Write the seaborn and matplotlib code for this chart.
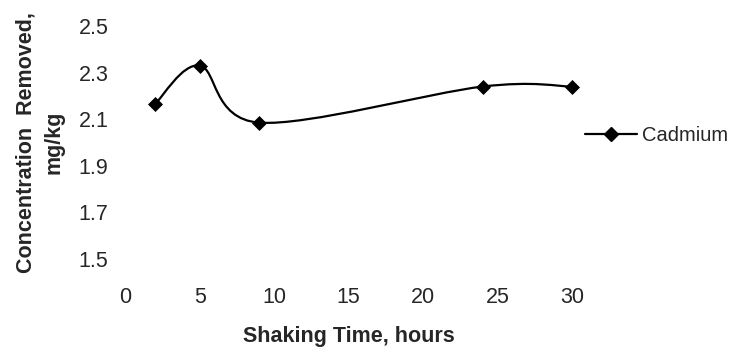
import numpy as np
import pandas as pd
import matplotlib
matplotlib.use("Agg")
import matplotlib.pyplot as plt
import seaborn as sns
from matplotlib.path import Path
from matplotlib.patches import PathPatch
from matplotlib.lines import Line2D

# data
hours = [2, 5, 9, 24, 30]
cadmium = [2.165, 2.33, 2.085, 2.24, 2.24]
x_ticks = [0, 5, 10, 15, 20, 25, 30]
y_ticks = [1.5, 1.7, 1.9, 2.1, 2.3, 2.5]

data = pd.DataFrame({"hours": hours, "cadmium": cadmium})

sns.set_style("white")
plt.rcParams["font.family"] = ["Liberation Sans", "DejaVu Sans"]
fs = 15.5

fig = plt.figure(figsize=(7.37, 3.47), dpi=100)
ax = fig.add_axes([0.170, 0.254, 0.606, 0.671])

# smoothed line like excel (bezier through the points)
pts = np.column_stack([data["hours"], data["cadmium"]]).astype(float)
ext = np.vstack([pts[0], pts, pts[-1]])
verts = [tuple(pts[0])]
codes = [Path.MOVETO]
for i in range(len(pts) - 1):
    p0, p1, p2, p3 = ext[i], ext[i + 1], ext[i + 2], ext[i + 3]
    c1 = p1 + (p2 - p0) / 6
    c2 = p2 - (p3 - p1) / 6
    verts += [tuple(c1), tuple(c2), tuple(p2)]
    codes += [Path.CURVE4] * 3
curve = PathPatch(Path(verts, codes), facecolor="none", edgecolor="black",
                  lw=1.6, clip_on=False)
ax.add_patch(curve)

sns.scatterplot(data=data, x="hours", y="cadmium", marker="D", color="black",
                s=50, edgecolor="black", zorder=3, clip_on=False, ax=ax)

ax.set_xlim(0, 30)
ax.set_ylim(1.5, 2.5)
ax.set_xticks(x_ticks)
ax.set_yticks(y_ticks)
ax.set_yticklabels([f"{v:.1f}" for v in y_ticks])
ax.tick_params(axis="x", length=0, pad=20, labelsize=fs)
ax.tick_params(axis="y", length=0, pad=12, labelsize=fs)
sns.despine(ax=ax, left=True, bottom=True)

ax.set_xlabel("Shaking Time, hours", fontsize=fs, fontweight="bold", labelpad=13)
ax.set_ylabel("Concentration  Removed,\nmg/kg", fontsize=fs, fontweight="bold",
              labelpad=10, linespacing=1.45)

handle = Line2D([], [], color="black", lw=1.6, marker="D", markersize=7.5)
ax.legend([handle], ["Cadmium"], loc="center left", bbox_to_anchor=(0.998, 0.528),
          frameon=False, fontsize=14.5, handlelength=2.6, handletextpad=0.2,
          borderaxespad=0.3)

fig.savefig("out.png", dpi=100)
